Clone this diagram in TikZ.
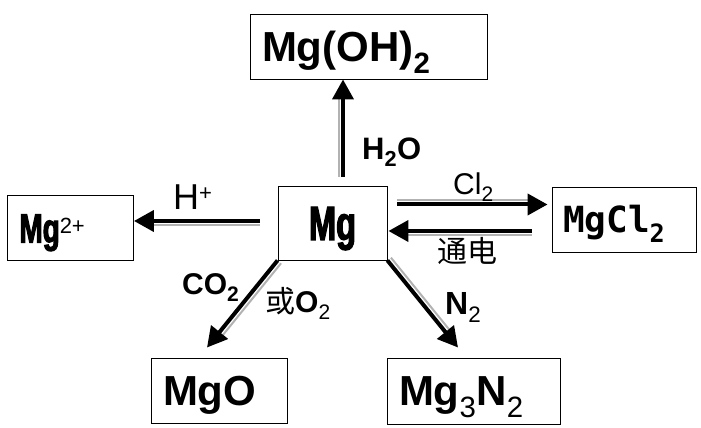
\documentclass[tikz,border=0pt]{standalone}
\usepackage{fontspec}
\setmainfont{Liberation Sans}
\newfontfamily\cjk{Noto Sans CJK SC}
\newfontfamily\monofont{DejaVu Sans Mono}
\newfontfamily\narrowbf{Liberation Sans Bold}[FakeStretch=0.68, FakeBold=2.5]
\usetikzlibrary{arrows.meta, positioning}
\tikzset {
  box/.style = {draw, line width=0.9pt, rectangle, inner xsep=12pt, inner ysep=0pt, align=left, text depth=0pt},
  line/.style = {-{Triangle[length=20pt, width=21pt]}, line width=4pt, color=black},
  shade/.style = {draw=gray!60, line width=2pt, shorten >=20pt},
  lbl/.style = {inner sep=0pt, anchor=base west}
}

\begin{document}
\begin{tikzpicture}[x=1pt, y=1pt]
    \useasboundingbox (0,0) rectangle (701,428);

    % boxes
    \node[box, font=\fontsize{42}{42}\bfseries, text width=213pt, minimum height=65pt, text height=30pt] (oh) at (368.5,381.5) {Mg(OH)\textsubscript{2}};
    \node[box, align=center, font=\fontsize{48}{48}\narrowbf, minimum width=109pt, minimum height=74pt, text height=34pt] (mg) at (332.5,205) {Mg};
    \node[box, font=\fontsize{41}{41}\narrowbf, text width=102pt, minimum height=65pt, text height=29pt] (ion) at (70.5,200) {Mg\textsuperscript{\normalfont\fontsize{22}{22}\selectfont 2+}};
    \node[box, inner xsep=11pt, font=\fontsize{36}{36}\monofont\bfseries, text width=122pt, minimum height=65pt, text height=26pt] (cl) at (624,208.5) {MgCl\textsubscript{2}};
    \node[box, font=\fontsize{42}{42}\bfseries, text width=112pt, minimum height=65pt, text height=30pt] (mgo) at (219,37.5) {MgO};
    \node[box, font=\fontsize{42}{42}\bfseries, text width=149pt, minimum height=66pt, text height=30pt] (nit) at (473.5,37) {Mg\textsubscript{\mdseries 3}N\textsubscript{\mdseries 2}};

    % arrows
    \draw[shade] ([xshift=6.5pt, yshift=9pt]mg.north) -- ([xshift=-29.5pt]oh.south);
    \draw[line] ([xshift=10.5pt, yshift=9pt]mg.north) -- ([xshift=-25.5pt]oh.south);

    \draw[shade] ([xshift=-18pt, yshift=-2.5pt]mg.west) -- ([yshift=2.5pt]ion.east);
    \draw[line] ([xshift=-18pt, yshift=2pt]mg.west) -- ([yshift=7pt]ion.east);

    \draw[shade] ([xshift=10pt, yshift=23pt]mg.east) -- ([xshift=-4pt, yshift=19.5pt]cl.west);
    \draw[line] ([xshift=10pt, yshift=18.5pt]mg.east) -- ([xshift=-4pt, yshift=15pt]cl.west);

    \draw[shade] ([xshift=-20pt, yshift=-15.5pt]cl.west) -- ([xshift=1pt, yshift=-12pt]mg.east);
    \draw[line] ([xshift=-20pt, yshift=-11.5pt]cl.west) -- ([xshift=1pt, yshift=-8pt]mg.east);

    \draw[shade, transform canvas={shift={(3.5pt,-2.8pt)}}] (mg.south west) -- ([xshift=-12pt, yshift=10pt]mgo.north);
    \draw[line] (mg.south west) -- ([xshift=-12pt, yshift=10pt]mgo.north);

    \draw[shade, transform canvas={shift={(3.5pt,2.8pt)}}] (mg.south east) -- ([xshift=-15.5pt, yshift=10pt]nit.north);
    \draw[line] (mg.south east) -- ([xshift=-15.5pt, yshift=10pt]nit.north);

    % labels
    \node[lbl, font=\fontsize{31}{31}\bfseries] (water) at (362,268) {H\textsubscript{2}O};
    \node[lbl, font=\fontsize{36}{36}\selectfont] (acid) at (173,218) {H\textsuperscript{\fontsize{22}{22}\selectfont +}};
    \node[lbl, font=\fontsize{30}{30}\selectfont] (chlor) at (453,233) {Cl\textsubscript{2}};
    \node[lbl, font=\fontsize{30}{30}\cjk] (elec) at (437,165) {通电};
    \node[lbl, font=\fontsize{30}{30}\bfseries] (co) at (182,133) {CO\textsubscript{2}};
    \node[lbl, font=\fontsize{30}{30}\selectfont] (oxy) at (265,115) {{\cjk 或}\textbf{O}\textsubscript{2}};
    \node[lbl, font=\fontsize{32}{32}\bfseries] (nitro) at (445,113) {N\textsubscript{\mdseries 2}};

\end{tikzpicture}
\end{document}
